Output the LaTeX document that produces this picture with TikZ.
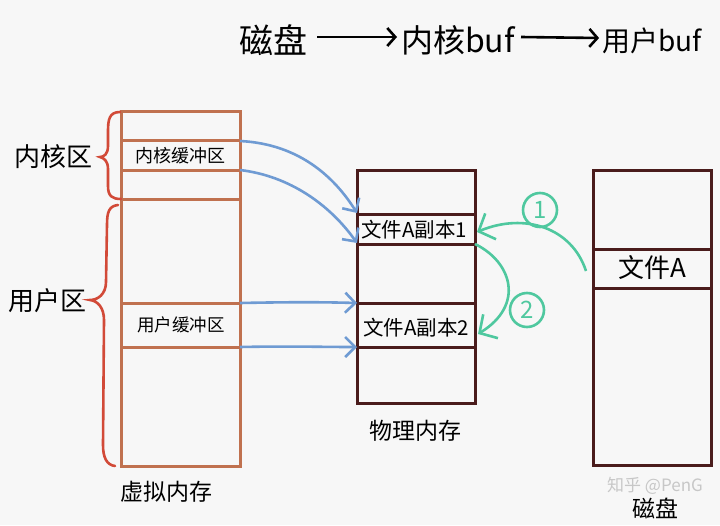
\documentclass[tikz,border=0pt]{standalone}
\usepackage{fontspec}
\setmainfont{Noto Sans CJK SC}
\usetikzlibrary{arrows.meta}
\definecolor{bg}{HTML}{F7F7F7}
\definecolor{vbox}{HTML}{C0714F}
\definecolor{brace}{HTML}{D24A38}
\definecolor{pbox}{HTML}{4A1C1C}
\definecolor{blu}{HTML}{6F9BD3}
\definecolor{grn}{HTML}{4FC89F}
\tikzset{
  vline/.style={draw=vbox, line width=3pt},
  pline/.style={draw=pbox, line width=3pt},
  bline/.style={draw=brace, line width=2.6pt, line cap=round},
  barrow/.style={draw=blu, line width=2.6pt, -{Straight Barb[length=10pt,width=20pt,line width=2.6pt]}},
  garrow/.style={draw=grn, line width=2.6pt, -{Straight Barb[length=13pt,width=28pt,line width=2.6pt]}},
  tarrow/.style={draw=black, line width=2.6pt, -{Straight Barb[length=8pt,width=18pt,line width=2.6pt]}},
  lbl/.style={inner sep=0pt, font=\fontsize{#1}{#1}\selectfont},
  gnum/.style={draw=grn, line width=2.6pt, circle, minimum size=34pt, inner sep=0pt, text=grn, font=\fontsize{24}{24}\selectfont},
}
\begin{document}
\begin{tikzpicture}[x=1pt,y=-1pt]
\fill[bg] (0,0) rectangle (720,525);
\useasboundingbox (0,0) rectangle (720,525);

% title
\node[lbl=34] (t1) at (273,40) {磁盘};
\node[lbl=32] (t2) at (458,40) {内核buf};
\node[lbl=28] (t3) at (652,41) {用户buf};
\draw[tarrow] ([xshift=10pt,yshift=3pt]t1.east) -- ([xshift=-4pt,yshift=3pt]t2.west);
\draw[tarrow] ([xshift=6pt,yshift=3pt]t2.east) -- ([xshift=-3pt,yshift=3pt]t3.west);

% virtual memory
\draw[vline] (121,111) rectangle (240,466);
\foreach \y in {140,170,199,303,347} \draw[vline] (121,\y) -- (240,\y);
\node[lbl=18] (kbuf) at (180,156) {内核缓冲区};
\node[lbl=17.5] (ubuf) at (181,325) {用户缓冲区};
\node[lbl=23] (vm) at (166,492) {虚拟内存};
\coordinate (k1) at (240,141);
\coordinate (k2) at (240,170);
\coordinate (u1) at (240,303);
\coordinate (u2) at (240,347);

% braces
\draw[bline] (120,112) .. controls (109,112) and (108,120) .. (108,132) -- (108,146)
  .. controls (108,154) and (104,157) .. (100,157) .. controls (104,158) and (108,161) .. (108,169)
  -- (108,186) .. controls (108,196) and (112,199) .. (121,199);
\draw[bline] (118,205) .. controls (109,206) and (107,212) .. (107,225) -- (106,282)
  .. controls (106,294) and (98,300) .. (90,300) .. controls (98,301) and (104,308) .. (104,320)
  -- (103,445) .. controls (103,458) and (107,465) .. (115,466);
\node[lbl=26] (kz) at (53,157) {内核区};
\node[lbl=26] (uz) at (48,301) {用户区};

% physical memory
\draw[pline] (357,170) rectangle (475,403);
\foreach \y in {214,244,303,347} \draw[pline] (357,\y) -- (475,\y);
\node[lbl=20.5] (c1) at (414,230) {文件A副本1};
\node[lbl=20.5] (c2) at (416,328) {文件A副本2};
\node[lbl=23] (pm) at (415,431) {物理内存};
\coordinate (p1) at (357,213);
\coordinate (p2) at (357,243);
\coordinate (p3) at (357,303);
\coordinate (p4) at (357,347);
\coordinate (c1r) at (477,232);
\coordinate (c1b) at (475,244);
\coordinate (c2r) at (478,334);

% disk
\draw[pline] (593,170) rectangle (711,465);
\foreach \y in {249,288} \draw[pline] (593,\y) -- (711,\y);
\node[lbl=26] (fa) at (652,268) {文件A};
\node[lbl=23] (disk) at (655,508) {磁盘};
\coordinate (fal) at (586,271);

% watermark
\node[lbl=17, text=black!22] (wm) at (655,486) {知乎 @PenG};

% blue arrows
\draw[barrow] (k1) .. controls (300,144) and (335,178) .. (p1);
\draw[barrow] (k2) .. controls (290,176) and (330,205) .. (p2);
\draw[barrow] (u1) .. controls (290,302) and (320,302) .. (p3);
\draw[barrow] (u2) .. controls (290,346) and (320,347) .. (p4);

% green arrows
\draw[garrow] (fal) .. controls (572,228) and (525,212) .. (c1r);
\draw[garrow] (c1b) .. controls (512,262) and (525,305) .. (c2r);
\node[gnum] (n1) at (540,210) {1};
\node[gnum] (n2) at (527,310) {2};
\end{tikzpicture}
\end{document}
